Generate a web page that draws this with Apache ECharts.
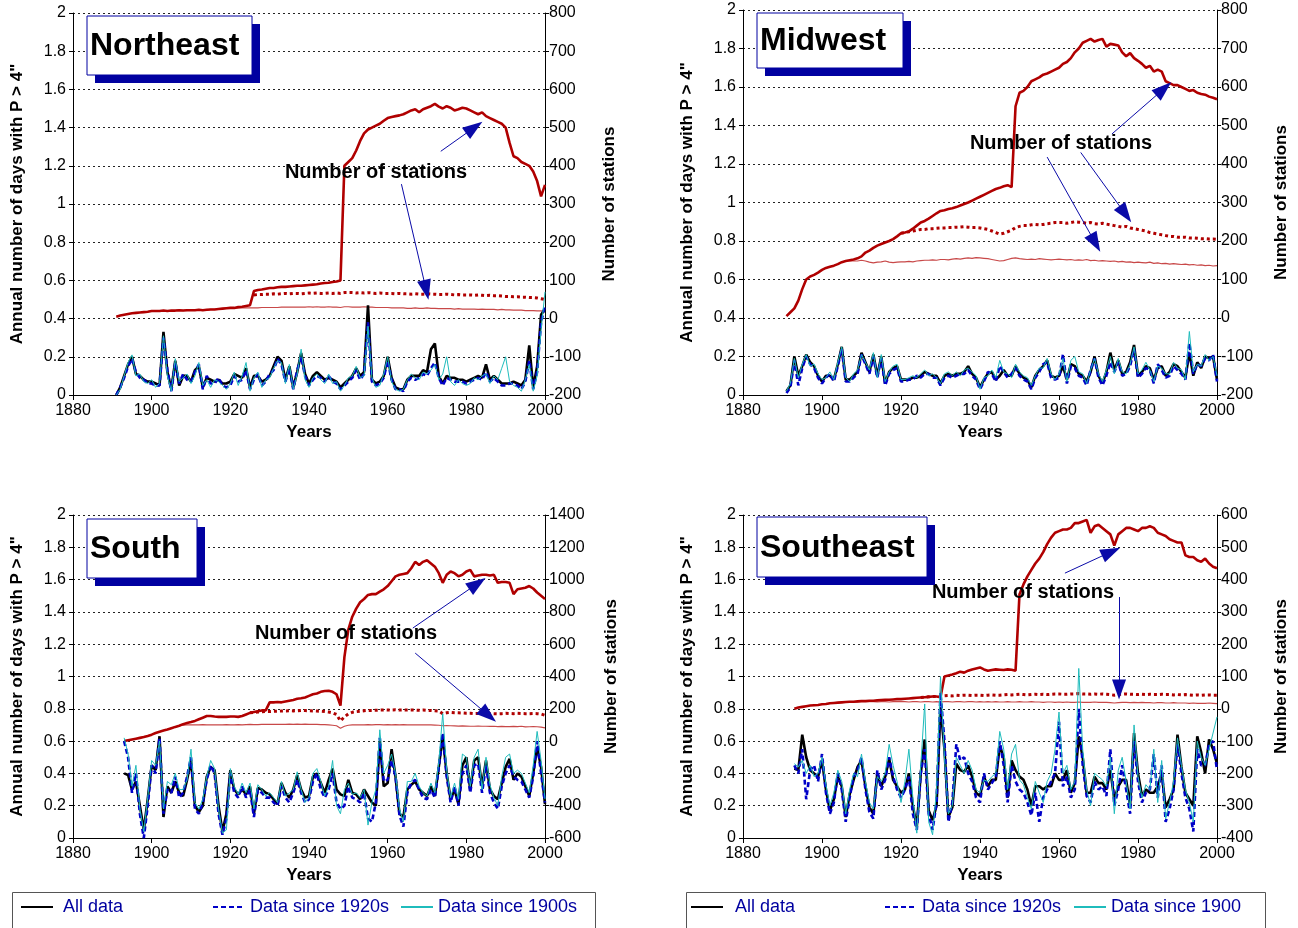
<!DOCTYPE html>
<html>
<head>
<meta charset="utf-8">
<title>Annual number of days with P > 4 inches</title>
<script src="https://cdn.jsdelivr.net/npm/echarts/dist/echarts.min.js"></script>
<style>
html, body { margin: 0; padding: 0; background: #fff; }
#chart { width: 1298px; height: 928px; }
</style>
</head>
<body>
<div id="chart"></div>
<script>
// ---- data: first year of each array, then yearly values ----
// Northeast
var nePrecipAll = [
  0.00, 0.04, 0.10, 0.16, 0.20, 0.11, 0.10, 0.08, 0.07, 0.07,
  0.06, 0.05, 0.33, 0.12, 0.03, 0.18, 0.05, 0.10, 0.10, 0.07,
  0.13, 0.15, 0.04, 0.09, 0.08, 0.07, 0.08, 0.06, 0.06, 0.07,
  0.11, 0.10, 0.09, 0.14, 0.04, 0.10, 0.10, 0.07, 0.08, 0.10,
  0.15, 0.20, 0.18, 0.08, 0.15, 0.04, 0.12, 0.22, 0.11, 0.06,
  0.10, 0.12, 0.10, 0.08, 0.09, 0.08, 0.07, 0.04, 0.06, 0.08,
  0.10, 0.14, 0.10, 0.12, 0.47, 0.08, 0.06, 0.07, 0.10, 0.20,
  0.09, 0.04, 0.03, 0.03, 0.08, 0.10, 0.10, 0.10, 0.13, 0.12,
  0.24, 0.27, 0.10, 0.06, 0.10, 0.09, 0.09, 0.08, 0.08, 0.07,
  0.08, 0.09, 0.10, 0.09, 0.16, 0.08, 0.10, 0.08, 0.06, 0.06,
  0.06, 0.07, 0.06, 0.05, 0.08, 0.26, 0.04, 0.15, 0.42, 0.45
];
var nePrecip1920 = [
  0.00, 0.04, 0.09, 0.15, 0.19, 0.12, 0.09, 0.08, 0.06, 0.06,
  0.05, 0.05, 0.30, 0.13, 0.02, 0.17, 0.06, 0.11, 0.08, 0.07,
  0.12, 0.16, 0.03, 0.10, 0.06, 0.06, 0.09, 0.05, 0.04, 0.05,
  0.10, 0.07, 0.08, 0.13, 0.03, 0.08, 0.11, 0.05, 0.07, 0.11,
  0.13, 0.19, 0.16, 0.07, 0.14, 0.03, 0.13, 0.20, 0.10, 0.05,
  0.08, 0.10, 0.09, 0.07, 0.10, 0.07, 0.06, 0.03, 0.05, 0.07,
  0.09, 0.13, 0.08, 0.11, 0.38, 0.07, 0.05, 0.06, 0.09, 0.18,
  0.08, 0.03, 0.03, 0.02, 0.07, 0.09, 0.08, 0.09, 0.11, 0.10,
  0.14, 0.17, 0.09, 0.05, 0.09, 0.08, 0.07, 0.07, 0.07, 0.06,
  0.07, 0.08, 0.09, 0.08, 0.12, 0.07, 0.09, 0.07, 0.05, 0.05,
  0.06, 0.06, 0.05, 0.03, 0.07, 0.18, 0.03, 0.12, 0.38, 0.47
];
var nePrecip1900 = [
  0.00, 0.03, 0.10, 0.17, 0.21, 0.10, 0.11, 0.07, 0.06, 0.08,
  0.04, 0.06, 0.31, 0.10, 0.02, 0.19, 0.07, 0.09, 0.11, 0.06,
  0.10, 0.17, 0.05, 0.08, 0.04, 0.08, 0.07, 0.05, 0.03, 0.06,
  0.12, 0.05, 0.10, 0.17, 0.02, 0.09, 0.12, 0.04, 0.08, 0.09,
  0.14, 0.18, 0.17, 0.06, 0.16, 0.03, 0.11, 0.24, 0.08, 0.04,
  0.09, 0.11, 0.08, 0.06, 0.11, 0.06, 0.07, 0.02, 0.05, 0.09,
  0.10, 0.15, 0.09, 0.10, 0.36, 0.09, 0.04, 0.05, 0.11, 0.20,
  0.07, 0.03, 0.02, 0.03, 0.08, 0.11, 0.09, 0.08, 0.12, 0.11,
  0.13, 0.16, 0.08, 0.11, 0.20, 0.07, 0.05, 0.08, 0.06, 0.05,
  0.06, 0.09, 0.08, 0.10, 0.11, 0.06, 0.10, 0.08, 0.14, 0.20,
  0.07, 0.05, 0.04, 0.02, 0.08, 0.16, 0.02, 0.10, 0.34, 0.54
];
var neStnAll = [
  5, 8, 10, 12, 14, 15, 16, 17, 18, 20,
  20, 20, 21, 20, 21, 21, 22, 21, 22, 22,
  22, 23, 22, 23, 24, 24, 25, 26, 27, 28,
  28, 30, 31, 33, 35, 72, 75, 76, 78, 80,
  80, 82, 83, 83, 84, 85, 86, 86, 87, 88,
  89, 90, 92, 93, 94, 96, 97, 100, 400, 410,
  420, 440, 465, 485, 495, 500, 505, 510, 518, 525,
  528, 530, 532, 535, 540, 545, 548, 540, 548, 552,
  556, 562, 555, 550, 556, 552, 545, 548, 552, 550,
  545, 540, 535, 540, 530, 525, 520, 515, 510, 500,
  460, 425, 420, 410, 405, 400, 385, 360, 320, 350
];
var neStn1920 = [
  62, 63, 63, 64, 64,
  65, 64, 65, 66, 65, 66, 66, 65, 66, 67,
  66, 67, 66, 66, 67, 66, 67, 66, 68, 68,
  68, 67, 68, 67, 68, 67, 66, 67, 66, 66,
  66, 65, 66, 65, 65, 64, 65, 64, 64, 65,
  64, 64, 63, 63, 64, 63, 62, 63, 62, 62,
  62, 61, 62, 61, 60, 61, 60, 60, 59, 58,
  58, 57, 57, 56, 56, 55, 55, 54, 52, 50
];
var neStn1900 = [
  20,
  20, 20, 21, 20, 21, 21, 22, 21, 22, 22,
  22, 23, 22, 23, 24, 24, 25, 26, 27, 28,
  28, 28, 28, 28, 28, 28, 28, 29, 29, 29,
  29, 29, 30, 30, 30, 30, 30, 30, 30, 31,
  30, 31, 30, 30, 31, 30, 30, 29, 31, 31,
  30, 30, 30, 31, 30, 30, 29, 29, 29, 29,
  28, 28, 28, 28, 27, 27, 28, 27, 27, 28,
  27, 27, 26, 26, 26, 26, 25, 26, 25, 25,
  25, 25, 24, 25, 24, 24, 24, 23, 24, 23,
  23, 22, 22, 22, 21, 21, 21, 20, 20, 18
];

// Midwest
var mwPrecipAll = [
  0.02, 0.05, 0.20, 0.10, 0.15, 0.21, 0.17, 0.15, 0.10, 0.07,
  0.10, 0.10, 0.08, 0.16, 0.25, 0.08, 0.08, 0.10, 0.12, 0.22,
  0.17, 0.12, 0.21, 0.10, 0.20, 0.06, 0.12, 0.14, 0.15, 0.08,
  0.08, 0.08, 0.09, 0.09, 0.10, 0.12, 0.11, 0.10, 0.10, 0.06,
  0.10, 0.11, 0.10, 0.11, 0.11, 0.12, 0.15, 0.11, 0.09, 0.04,
  0.08, 0.11, 0.12, 0.08, 0.10, 0.13, 0.10, 0.10, 0.15, 0.11,
  0.09, 0.08, 0.04, 0.10, 0.13, 0.15, 0.18, 0.10, 0.09, 0.10,
  0.15, 0.08, 0.16, 0.15, 0.11, 0.10, 0.07, 0.12, 0.20, 0.10,
  0.06, 0.12, 0.22, 0.13, 0.18, 0.11, 0.12, 0.17, 0.26, 0.10,
  0.12, 0.15, 0.14, 0.08, 0.14, 0.15, 0.10, 0.12, 0.16, 0.15,
  0.12, 0.09, 0.22, 0.10, 0.17, 0.14, 0.20, 0.19, 0.20, 0.08
];
var mwPrecip1920 = [
  0.01, 0.04, 0.18, 0.05, 0.14, 0.20, 0.16, 0.14, 0.09, 0.06,
  0.09, 0.11, 0.07, 0.15, 0.24, 0.07, 0.07, 0.09, 0.11, 0.21,
  0.16, 0.11, 0.20, 0.09, 0.19, 0.05, 0.11, 0.13, 0.14, 0.07,
  0.07, 0.08, 0.08, 0.10, 0.09, 0.11, 0.11, 0.09, 0.09, 0.05,
  0.09, 0.10, 0.09, 0.10, 0.11, 0.11, 0.13, 0.10, 0.08, 0.03,
  0.07, 0.12, 0.11, 0.07, 0.15, 0.12, 0.09, 0.11, 0.14, 0.10,
  0.08, 0.07, 0.03, 0.09, 0.12, 0.16, 0.17, 0.09, 0.08, 0.09,
  0.21, 0.06, 0.15, 0.14, 0.10, 0.09, 0.05, 0.13, 0.19, 0.09,
  0.05, 0.10, 0.17, 0.12, 0.17, 0.10, 0.11, 0.15, 0.24, 0.09,
  0.11, 0.14, 0.13, 0.06, 0.16, 0.13, 0.09, 0.10, 0.15, 0.13,
  0.11, 0.08, 0.27, 0.11, 0.16, 0.15, 0.19, 0.18, 0.21, 0.07
];
var mwPrecip1900 = [
  0.02, 0.06, 0.19, 0.09, 0.16, 0.21, 0.15, 0.16, 0.11, 0.08,
  0.09, 0.12, 0.08, 0.17, 0.25, 0.09, 0.07, 0.11, 0.13, 0.21,
  0.17, 0.13, 0.22, 0.09, 0.21, 0.07, 0.12, 0.15, 0.16, 0.08,
  0.08, 0.09, 0.10, 0.09, 0.11, 0.13, 0.10, 0.11, 0.09, 0.06,
  0.11, 0.12, 0.10, 0.12, 0.10, 0.13, 0.14, 0.12, 0.10, 0.03,
  0.09, 0.10, 0.13, 0.09, 0.18, 0.12, 0.11, 0.09, 0.16, 0.12,
  0.10, 0.09, 0.05, 0.10, 0.14, 0.14, 0.19, 0.11, 0.08, 0.11,
  0.19, 0.07, 0.18, 0.20, 0.12, 0.11, 0.06, 0.13, 0.19, 0.11,
  0.07, 0.13, 0.20, 0.11, 0.19, 0.12, 0.11, 0.16, 0.25, 0.11,
  0.13, 0.17, 0.13, 0.07, 0.15, 0.14, 0.11, 0.11, 0.17, 0.14,
  0.13, 0.08, 0.33, 0.12, 0.16, 0.15, 0.21, 0.18, 0.20, 0.10
];
var mwStnAll = [
  5, 15, 25, 45, 75, 100, 108, 112, 118, 125,
  130, 133, 136, 140, 145, 148, 150, 152, 155, 160,
  170, 175, 182, 188, 192, 196, 200, 205, 212, 220,
  222, 225, 232, 240, 248, 252, 258, 265, 272, 278,
  280, 283, 285, 288, 292, 296, 300, 305, 310, 315,
  320, 325, 330, 335, 338, 342, 345, 340, 550, 585,
  590, 600, 615, 620, 625, 632, 635, 640, 645, 650,
  660, 665, 675, 690, 700, 715, 720, 725, 718, 722,
  725, 705, 712, 710, 708, 690, 680, 688, 675, 668,
  660, 650, 655, 640, 645, 640, 615, 610, 605, 605,
  600, 595, 590, 592, 585, 582, 580, 575, 572, 568
];
var mwStn1920 = [
  220,
  222, 224, 226, 228, 230, 230, 232, 232, 233, 234,
  234, 235, 235, 236, 236, 237, 236, 235, 235, 234,
  232, 230, 226, 222, 218, 220, 224, 228, 235, 238,
  240, 240, 242, 243, 242, 243, 245, 246, 248, 248,
  248, 246, 248, 250, 249, 248, 246, 248, 245, 244,
  246, 244, 242, 240, 238, 236, 238, 234, 232, 230,
  228, 226, 222, 220, 218, 216, 214, 212, 212, 210,
  210, 210, 208, 208, 207, 206, 206, 205, 205, 204
];
var mwStn1900 = [
  125,
  130, 133, 136, 140, 145, 148, 148, 148, 148, 150,
  148, 145, 143, 145, 146, 148, 145, 144, 145, 146,
  146, 147, 146, 148, 149, 150, 150, 151, 150, 152,
  152, 151, 153, 154, 153, 155, 156, 155, 157, 156,
  155, 154, 152, 150, 148, 149, 152, 155, 156, 154,
  153, 152, 153, 152, 154, 153, 152, 151, 152, 153,
  152, 151, 152, 150, 151, 150, 152, 149, 150, 148,
  149, 148, 147, 148, 146, 147, 145, 146, 144, 145,
  144, 143, 145, 142, 143, 141, 142, 140, 141, 140,
  139, 140, 138, 139, 137, 138, 136, 137, 135, 136
];

// South
var soPrecipAll = [
  0.40, 0.39, 0.30, 0.35, 0.20, 0.05, 0.24, 0.45,
  0.42, 0.63, 0.13, 0.32, 0.28, 0.35, 0.28, 0.26, 0.36, 0.48,
  0.20, 0.16, 0.20, 0.38, 0.44, 0.42, 0.20, 0.04, 0.15, 0.42,
  0.30, 0.27, 0.30, 0.27, 0.32, 0.15, 0.31, 0.30, 0.28, 0.27,
  0.24, 0.21, 0.34, 0.28, 0.25, 0.30, 0.39, 0.30, 0.25, 0.26,
  0.38, 0.40, 0.34, 0.28, 0.36, 0.43, 0.30, 0.27, 0.26, 0.36,
  0.28, 0.27, 0.24, 0.30, 0.26, 0.22, 0.20, 0.60, 0.32, 0.34,
  0.55, 0.38, 0.15, 0.13, 0.30, 0.33, 0.35, 0.30, 0.28, 0.26,
  0.32, 0.26, 0.44, 0.63, 0.40, 0.24, 0.30, 0.21, 0.45, 0.50,
  0.30, 0.48, 0.50, 0.32, 0.48, 0.30, 0.26, 0.24, 0.34, 0.44,
  0.49, 0.36, 0.40, 0.38, 0.32, 0.26, 0.40, 0.56, 0.44, 0.21
];
var soPrecip1920 = [
  0.60, 0.50, 0.28, 0.40, 0.15, 0.00, 0.20, 0.45,
  0.40, 0.62, 0.15, 0.30, 0.28, 0.38, 0.25, 0.28, 0.38, 0.50,
  0.18, 0.15, 0.22, 0.36, 0.45, 0.40, 0.15, 0.02, 0.12, 0.40,
  0.28, 0.25, 0.32, 0.25, 0.30, 0.13, 0.30, 0.28, 0.25, 0.25,
  0.22, 0.20, 0.32, 0.25, 0.22, 0.28, 0.36, 0.28, 0.22, 0.24,
  0.35, 0.40, 0.30, 0.25, 0.30, 0.40, 0.22, 0.18, 0.20, 0.32,
  0.25, 0.24, 0.22, 0.28, 0.12, 0.10, 0.22, 0.62, 0.35, 0.36,
  0.48, 0.38, 0.14, 0.07, 0.28, 0.34, 0.36, 0.30, 0.25, 0.24,
  0.30, 0.25, 0.44, 0.65, 0.38, 0.22, 0.32, 0.20, 0.40, 0.45,
  0.28, 0.45, 0.46, 0.28, 0.45, 0.28, 0.22, 0.18, 0.32, 0.40,
  0.45, 0.38, 0.36, 0.35, 0.30, 0.25, 0.38, 0.60, 0.40, 0.22
];
var soPrecip1900 = [
  0.62, 0.52, 0.32, 0.45, 0.18, 0.04, 0.25, 0.48,
  0.45, 0.60, 0.18, 0.35, 0.33, 0.40, 0.30, 0.30, 0.36, 0.55,
  0.22, 0.18, 0.24, 0.38, 0.48, 0.43, 0.18, 0.03, 0.05, 0.43,
  0.32, 0.27, 0.34, 0.28, 0.34, 0.18, 0.33, 0.30, 0.26, 0.28,
  0.25, 0.22, 0.35, 0.26, 0.28, 0.30, 0.41, 0.30, 0.22, 0.25,
  0.40, 0.43, 0.35, 0.26, 0.32, 0.48, 0.20, 0.15, 0.30, 0.34,
  0.27, 0.28, 0.25, 0.30, 0.08, 0.22, 0.30, 0.67, 0.40, 0.45,
  0.52, 0.40, 0.18, 0.10, 0.35, 0.35, 0.40, 0.32, 0.28, 0.26,
  0.34, 0.28, 0.47, 0.77, 0.42, 0.25, 0.34, 0.24, 0.52, 0.50,
  0.32, 0.50, 0.55, 0.30, 0.50, 0.33, 0.25, 0.20, 0.38, 0.50,
  0.52, 0.40, 0.42, 0.40, 0.34, 0.28, 0.45, 0.66, 0.48, 0.24
];
var soStnAll = [
  0, 5, 10, 15, 20, 25, 32, 40,
  50, 58, 65, 72, 80, 88, 95, 105, 112, 118,
  125, 135, 145, 155, 155, 152, 150, 150, 150, 152,
  152, 150, 155, 165, 175, 180, 185, 190, 190, 240,
  240, 242, 240, 245, 250, 255, 262, 265, 270, 280,
  290, 295, 305, 310, 312, 305, 290, 220, 520, 690,
  770, 820, 860, 880, 905, 910, 910, 925, 940, 960,
  990, 1020, 1030, 1035, 1040, 1070, 1110, 1090, 1110, 1120,
  1100, 1080, 1040, 980, 1030, 1050, 1040, 1020, 1030, 1050,
  1060, 1020, 1025, 1030, 1030, 1025, 1030, 980, 985, 985,
  980, 910, 940, 945, 950, 960, 945, 920, 900, 880
];
var soStn1920 = [
  175, 178, 180, 182, 183, 183,
  184, 185, 186, 187, 188, 187, 188, 190, 189, 188,
  187, 186, 185, 183, 180, 175, 165, 125, 150, 168,
  178, 182, 185, 188, 190, 190, 191, 192, 193, 192,
  193, 194, 192, 193, 192, 193, 192, 191, 192, 190,
  190, 188, 186, 170, 175, 178, 176, 175, 174, 172,
  172, 170, 171, 172, 170, 171, 170, 169, 170, 172,
  171, 170, 172, 171, 170, 170, 171, 170, 168, 160
];
var soStn1900 = [
  40,
  50, 58, 65, 72, 80, 88, 95, 98, 100, 100,
  100, 101, 102, 100, 100, 101, 100, 101, 102, 101,
  101, 102, 101, 102, 103, 102, 102, 103, 104, 103,
  104, 104, 103, 104, 105, 104, 105, 104, 105, 104,
  104, 103, 102, 102, 100, 98, 95, 80, 92, 98,
  100, 100, 101, 101, 102, 101, 102, 102, 101, 102,
  101, 102, 101, 102, 101, 100, 101, 100, 101, 100,
  100, 99, 98, 95, 96, 95, 94, 93, 94, 93,
  92, 92, 93, 92, 92, 91, 92, 90, 91, 90,
  90, 91, 90, 92, 88, 89, 90, 89, 87, 82
];

// Southeast
var sePrecipAll = [
  0.43, 0.42, 0.64, 0.50, 0.42, 0.40, 0.38, 0.48,
  0.30, 0.17, 0.24, 0.38, 0.32, 0.13, 0.27, 0.36, 0.44, 0.48,
  0.32, 0.19, 0.15, 0.40, 0.32, 0.38, 0.49, 0.36, 0.32, 0.28,
  0.30, 0.40, 0.20, 0.07, 0.40, 0.61, 0.17, 0.11, 0.20, 0.81,
  0.55, 0.13, 0.19, 0.46, 0.42, 0.41, 0.45, 0.38, 0.28, 0.26,
  0.38, 0.32, 0.36, 0.36, 0.57, 0.50, 0.25, 0.48, 0.42, 0.38,
  0.36, 0.30, 0.20, 0.32, 0.32, 0.30, 0.32, 0.32, 0.40, 0.36,
  0.36, 0.42, 0.28, 0.34, 0.63, 0.50, 0.28, 0.28, 0.38, 0.34,
  0.34, 0.30, 0.42, 0.24, 0.32, 0.36, 0.36, 0.20, 0.65, 0.40,
  0.26, 0.30, 0.28, 0.28, 0.32, 0.40, 0.19, 0.24, 0.30, 0.64,
  0.44, 0.28, 0.24, 0.20, 0.63, 0.53, 0.40, 0.61, 0.55, 0.46
];
var sePrecip1920 = [
  0.45, 0.40, 0.55, 0.24, 0.42, 0.45, 0.35, 0.52,
  0.28, 0.15, 0.22, 0.40, 0.30, 0.10, 0.25, 0.38, 0.42, 0.50,
  0.30, 0.16, 0.12, 0.42, 0.30, 0.36, 0.50, 0.38, 0.30, 0.25,
  0.30, 0.38, 0.15, 0.05, 0.40, 0.55, 0.15, 0.05, 0.22, 0.90,
  0.60, 0.10, 0.22, 0.58, 0.48, 0.50, 0.40, 0.35, 0.25, 0.22,
  0.40, 0.30, 0.34, 0.38, 0.60, 0.45, 0.22, 0.45, 0.35, 0.30,
  0.28, 0.22, 0.14, 0.28, 0.10, 0.25, 0.30, 0.35, 0.40, 0.72,
  0.32, 0.38, 0.25, 0.30, 0.80, 0.45, 0.26, 0.22, 0.35, 0.30,
  0.32, 0.26, 0.55, 0.20, 0.30, 0.45, 0.30, 0.15, 0.60, 0.35,
  0.22, 0.28, 0.30, 0.52, 0.25, 0.45, 0.10, 0.18, 0.30, 0.58,
  0.40, 0.25, 0.18, 0.04, 0.55, 0.45, 0.45, 0.58, 0.60, 0.42
];
var sePrecip1900 = [
  0.46, 0.44, 0.48, 0.40, 0.45, 0.38, 0.40, 0.50,
  0.33, 0.20, 0.28, 0.42, 0.35, 0.15, 0.30, 0.40, 0.38, 0.52,
  0.35, 0.22, 0.18, 0.38, 0.35, 0.40, 0.58, 0.45, 0.35, 0.22,
  0.35, 0.55, 0.25, 0.03, 0.45, 0.83, 0.10, 0.02, 0.30, 1.00,
  0.50, 0.15, 0.20, 0.50, 0.45, 0.40, 0.48, 0.42, 0.30, 0.28,
  0.36, 0.35, 0.38, 0.40, 0.66, 0.55, 0.30, 0.52, 0.58, 0.36,
  0.33, 0.25, 0.18, 0.35, 0.28, 0.22, 0.35, 0.40, 0.55, 0.78,
  0.40, 0.45, 0.30, 0.35, 1.05, 0.55, 0.30, 0.20, 0.40, 0.38,
  0.36, 0.32, 0.50, 0.15, 0.42, 0.50, 0.35, 0.18, 0.70, 0.38,
  0.25, 0.33, 0.30, 0.55, 0.22, 0.48, 0.12, 0.22, 0.35, 0.62,
  0.45, 0.30, 0.22, 0.10, 0.60, 0.50, 0.45, 0.55, 0.65, 0.75
];
var seStnAll = [
  0, 4, 6, 8, 10, 11, 12, 14,
  15, 17, 18, 19, 20, 21, 22, 22, 23, 24,
  24, 25, 25, 26, 27, 28, 28, 29, 30, 30,
  31, 32, 33, 34, 35, 36, 37, 38, 38, 36,
  100, 103, 106, 110, 115, 112, 118, 122, 125, 128,
  122, 118, 120, 122, 121, 120, 122, 121, 118, 355,
  385, 410, 430, 450, 465, 485, 510, 530, 545, 550,
  555, 555, 560, 575, 575, 580, 585, 545, 565, 570,
  560, 550, 540, 505, 540, 550, 560, 560, 555, 550,
  560, 560, 565, 560, 545, 540, 535, 525, 520, 515,
  515, 475, 470, 470, 460, 455, 465, 450, 440, 435
];
var seStn1920 = [
  35, 36, 37, 38, 38, 38,
  40, 41, 40, 42, 41, 42, 42, 41, 42, 42,
  41, 42, 43, 42, 42, 43, 44, 43, 44, 45,
  44, 43, 44, 45, 44, 45, 44, 45, 46, 46,
  45, 45, 46, 46, 47, 46, 46, 45, 46, 45,
  46, 45, 44, 42, 44, 45, 46, 45, 45, 44,
  45, 44, 45, 44, 44, 45, 44, 44, 43, 44,
  43, 44, 43, 42, 43, 42, 43, 43, 42, 42
];
var seStn1900 = [
  14,
  15, 17, 18, 19, 20, 20, 21, 21, 21, 22,
  21, 22, 22, 21, 22, 22, 21, 22, 22, 22,
  22, 21, 22, 22, 21, 22, 22, 21, 22, 21,
  22, 22, 21, 22, 22, 21, 22, 22, 21, 22,
  21, 22, 21, 22, 21, 21, 22, 21, 21, 22,
  21, 21, 22, 21, 21, 20, 21, 21, 20, 21,
  20, 21, 20, 20, 21, 20, 20, 20, 21, 20,
  20, 20, 19, 18, 19, 20, 20, 19, 20, 19,
  20, 19, 19, 18, 19, 19, 18, 18, 19, 18,
  18, 18, 17, 18, 17, 17, 17, 18, 17, 16
];

// ---- helpers ----
var FONT = '"Liberation Sans", Arial, sans-serif';
var RED = '#b00000';
var NAVY = '#0000a0';

function pairs(year0, vals) {
  return vals.map(function (v, i) { return [year0 + i, v]; });
}

function plain(v) { return String(v); }

function line(name, xi, yi, data, style) {
  return {
    name: name, type: 'line', xAxisIndex: xi, yAxisIndex: yi,
    data: data, showSymbol: false, symbol: 'none', silent: true,
    connectNulls: false, lineStyle: style, itemStyle: { color: style.color },
    z: 3
  };
}

// panel layout + which arrays go where
var panels = [
  { title: 'Northeast', left: 73, top: 13, width: 472, height: 382,
    stnMin: -200, stnMax: 800, stnStep: 100, rightGap: 56, cyanName: 'Data since 1900s',
    precip: [pairs(1891, nePrecipAll), pairs(1891, nePrecip1920), pairs(1891, nePrecip1900)],
    stn: [pairs(1891, neStnAll), pairs(1926, neStn1920), pairs(1900, neStn1900)],
    arrows: [[[1973.5, 438], [1982, 500]], [[1963.5, 352], [1969.8, 75]]],
    note: [376, 172],
    box: [87, 16, 165, 59] },
  { title: 'Midwest', left: 743, top: 10, width: 474, height: 385,
    stnMin: -200, stnMax: 800, stnStep: 100, rightGap: 56, cyanName: 'Data since 1900',
    precip: [pairs(1891, mwPrecipAll), pairs(1891, mwPrecip1920), pairs(1891, mwPrecip1900)],
    stn: [pairs(1891, mwStnAll), pairs(1920, mwStn1920), pairs(1900, mwStn1900)],
    arrows: [[[1973.4, 478], [1986.5, 595]], [[1965.5, 430], [1976.8, 270]], [[1957, 418], [1969.2, 195]]],
    note: [1061, 143],
    box: [757, 13, 146, 55] },
  { title: 'South', left: 73, top: 515, width: 472, height: 323,
    stnMin: -600, stnMax: 1400, stnStep: 200, rightGap: 58, cyanName: 'Data since 1900s',
    precip: [pairs(1893, soPrecipAll), pairs(1893, soPrecip1920), pairs(1893, soPrecip1900)],
    stn: [pairs(1893, soStnAll), pairs(1925, soStn1920), pairs(1900, soStn1900)],
    arrows: [[[1966.4, 700], [1982.8, 975]], [[1967, 545], [1985.6, 160]]],
    note: [346, 633],
    box: [87, 519, 110, 59] },
  { title: 'Southeast', left: 743, top: 515, width: 474, height: 323,
    stnMin: -400, stnMax: 600, stnStep: 100, rightGap: 56, cyanName: 'Data since 1900',
    precip: [pairs(1893, sePrecipAll), pairs(1893, sePrecip1920), pairs(1893, sePrecip1900)],
    stn: [pairs(1893, seStnAll), pairs(1925, seStn1920), pairs(1900, seStn1900)],
    arrows: [[[1961.5, 420], [1973.2, 486]], [[1975.2, 346], [1975.2, 60]]],
    note: [1023, 592],
    box: [757, 517, 170, 60] }
];

var grid = [], xAxis = [], yAxis = [], series = [], graphic = [];

panels.forEach(function (p, i) {
  grid.push({ left: p.left, top: p.top, width: p.width, height: p.height,
    containLabel: false, outerBoundsMode: 'none' });

  xAxis.push({
    gridIndex: i, type: 'value', min: 1880, max: 2000, interval: 20,
    name: 'Years', nameLocation: 'middle', nameGap: 29,
    nameTextStyle: { fontFamily: FONT, fontSize: 17, fontWeight: 'bold', color: '#000' },
    axisLine: { show: true, lineStyle: { color: '#000', width: 1 } },
    axisTick: { show: true, inside: false, length: 5, lineStyle: { color: '#000' } },
    axisLabel: { fontFamily: FONT, fontSize: 16, color: '#000', margin: 8, formatter: plain },
    splitLine: { show: false }
  });

  yAxis.push({
    gridIndex: i, type: 'value', position: 'left', min: 0, max: 2, interval: 0.2,
    name: 'Annual number of days with P > 4"', nameLocation: 'middle', nameRotate: 90, nameGap: 47,
    nameTextStyle: { fontFamily: FONT, fontSize: 17, fontWeight: 'bold', color: '#000' },
    axisLine: { show: true, onZero: false, lineStyle: { color: '#000', width: 1 } },
    axisTick: { show: true, inside: false, length: 4, lineStyle: { color: '#000' } },
    axisLabel: { fontFamily: FONT, fontSize: 16, color: '#000', margin: 7 },
    splitLine: { show: true, lineStyle: { color: '#222', width: 1, type: [2, 3] } }
  });

  yAxis.push({
    gridIndex: i, type: 'value', position: 'right', min: p.stnMin, max: p.stnMax, interval: p.stnStep,
    name: 'Number of stations', nameLocation: 'middle', nameRotate: 90, nameGap: p.rightGap,
    nameTextStyle: { fontFamily: FONT, fontSize: 17, fontWeight: 'bold', color: '#000' },
    axisLine: { show: true, onZero: false, lineStyle: { color: '#000', width: 1 } },
    axisTick: { show: true, inside: false, length: 4, lineStyle: { color: '#000' } },
    axisLabel: { fontFamily: FONT, fontSize: 16, color: '#000', margin: 4, formatter: plain },
    splitLine: { show: false }
  });

  var yl = 2 * i, yr = 2 * i + 1;

  // station counts (right axis)
  var thick = line(p.title + ' stations, all data', i, yr, p.stn[0], { color: RED, width: 2.6 });
  thick.markLine = {
    silent: true, animation: false,
    symbol: ['none', 'triangle'], symbolSize: [0, 16],
    label: { show: false },
    lineStyle: { color: '#0a0aa8', width: 1, type: 'solid' },
    data: p.arrows.map(function (a) {
      return [{ coord: a[0] }, { coord: a[1], symbol: 'triangle', symbolSize: [14, 20] }];
    })
  };
  series.push(line(p.title + ' stations, since 1900s', i, yr, p.stn[2], { color: '#c84848', width: 1.2 }));
  series.push(line(p.title + ' stations, since 1920s', i, yr, p.stn[1], { color: RED, width: 3, type: [3, 3] }));
  series.push(thick);

  // precipitation days (left axis)
  series.push(line('All data', i, yl, p.precip[0], { color: '#000', width: 2.6 }));
  series.push(line('Data since 1920s', i, yl, p.precip[1], { color: '#0000c8', width: 2.6, type: [5, 3] }));
  series.push(line(p.cyanName, i, yl, p.precip[2], { color: '#1fbcbc', width: 1 }));

  // region title box
  var b = p.box;
  graphic.push({ type: 'rect', z: 100, shape: { x: b[0] + 8, y: b[1] + 8, width: b[2], height: b[3] },
    style: { fill: NAVY } });
  graphic.push({ type: 'rect', z: 101, shape: { x: b[0], y: b[1], width: b[2], height: b[3] },
    style: { fill: '#fff', stroke: NAVY, lineWidth: 1 } });
  graphic.push({ type: 'text', z: 102, x: b[0] + 3, y: b[1] + b[3] / 2 + 1,
    style: { text: p.title, font: 'bold 32px ' + FONT, fill: '#000', verticalAlign: 'middle', align: 'left' } });

  // "Number of stations" note
  graphic.push({ type: 'text', z: 90, x: p.note[0], y: p.note[1],
    style: { text: 'Number of stations', font: 'bold 20px ' + FONT, fill: '#000', align: 'center', verticalAlign: 'middle' } });
});

// legend boxes
graphic.push({ type: 'rect', z: 50, shape: { x: 12.5, y: 892.5, width: 583, height: 45 },
  style: { fill: 'none', stroke: '#555', lineWidth: 1 } });
graphic.push({ type: 'rect', z: 50, shape: { x: 686.5, y: 892.5, width: 579, height: 45 },
  style: { fill: 'none', stroke: '#555', lineWidth: 1 } });

function legendItem(name, left, pad) {
  return {
    data: [name], left: left, top: 898, orient: 'horizontal',
    itemWidth: 32, itemHeight: 12, padding: 0,
    itemStyle: { opacity: 0 },
    textStyle: { fontFamily: FONT, fontSize: 18, color: NAVY, padding: [0, 0, 0, pad] }
  };
}

var legend = [
  legendItem('All data', 20, 5),
  legendItem('Data since 1920s', 212, 0),
  legendItem('Data since 1900s', 400, 0),
  legendItem('All data', 690, 7),
  legendItem('Data since 1920s', 884, 0),
  legendItem('Data since 1900', 1073, 0)
];

var chart = echarts.init(document.getElementById('chart'));
chart.setOption({
  animation: false,
  backgroundColor: '#fff',
  grid: grid,
  xAxis: xAxis,
  yAxis: yAxis,
  legend: legend,
  graphic: graphic,
  series: series
});
</script>
</body>
</html>
